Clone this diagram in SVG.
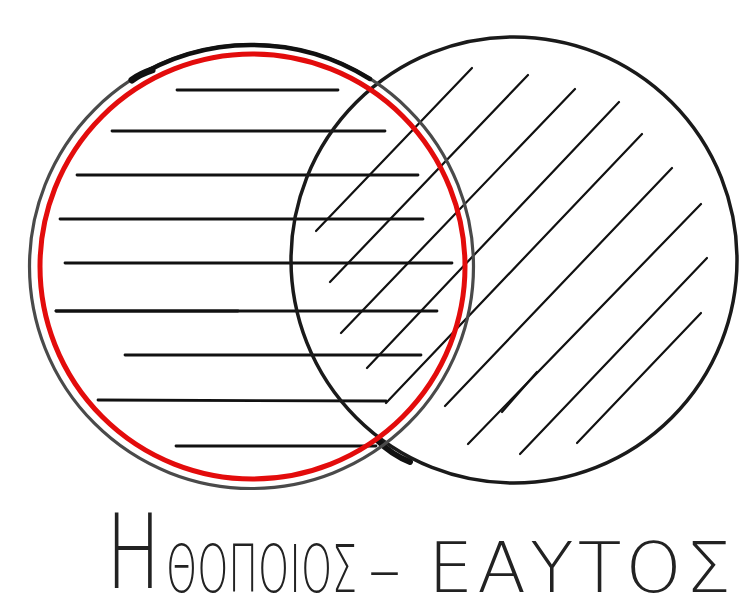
<svg xmlns="http://www.w3.org/2000/svg" width="748" height="613" viewBox="0 0 748 613">
<style>
.h{stroke:#111;stroke-width:2.8;stroke-linecap:round;fill:none}
.d{stroke:#111;stroke-width:2.2;stroke-linecap:round;fill:none}
.t{font-family:"DejaVu Sans","Liberation Sans",sans-serif;font-weight:200;fill:#222}
</style>
<rect width="748" height="613" fill="#fff"/>
<g id="connectors">
<line class="h" x1="177" y1="90" x2="338" y2="90"/>
<line class="h" x1="112" y1="131" x2="385" y2="131"/>
<line class="h" x1="77" y1="175" x2="418" y2="175"/>
<line class="h" x1="60" y1="219" x2="423" y2="219"/>
<line class="h" x1="65" y1="263" x2="452" y2="263"/>
<line class="h" x1="56" y1="311" x2="437" y2="311" stroke-width="2.2"/>
<line class="h" x1="56" y1="311" x2="238" y2="311" stroke-width="3.6"/>
<line class="h" x1="125" y1="355" x2="421" y2="355" stroke-width="2"/>
<line class="h" x1="98" y1="400" x2="386" y2="401"/>
<line class="h" x1="176" y1="446" x2="376" y2="446"/>
<line class="d" x1="472" y1="68" x2="316" y2="231"/>
<line class="d" x1="528" y1="75" x2="330" y2="282"/>
<line class="d" x1="575" y1="89" x2="341" y2="333"/>
<line class="d" x1="619" y1="102" x2="367" y2="368"/>
<line class="d" x1="642" y1="134" x2="386" y2="403" stroke-width="2.6"/>
<line class="d" x1="672" y1="168" x2="445" y2="406"/>
<line class="d" x1="701" y1="204" x2="468" y2="444" stroke-width="2.6"/>
<line class="d" x1="537" y1="372" x2="502" y2="412" stroke-width="4.5"/>
<line class="d" x1="707" y1="258" x2="520" y2="454"/>
<line class="d" x1="701" y1="313" x2="577" y2="443" stroke-width="2.6"/>
</g>
<g id="right-circle">
<circle cx="514" cy="260" r="223" fill="none" stroke="#1a1a1a" stroke-width="3.5"/>
<path d="M377,440 Q392,455 410,462" fill="none" stroke="#111" stroke-width="6" stroke-linecap="round"/>
</g>
<g id="left-circle">
<circle cx="251.5" cy="266.5" r="222" fill="none" stroke="#4a4a4a" stroke-width="3.2"/>
<path d="M132,80 A222,222 0 0 1 370,79" fill="none" stroke="#111" stroke-width="4.5" stroke-linecap="round"/>
<path d="M132,80 Q140,74 152,70" fill="none" stroke="#111" stroke-width="7" stroke-linecap="round"/>
</g>
<g id="red-circle">
<circle cx="252.5" cy="266.5" r="212.5" fill="none" stroke="#e30c0c" stroke-width="5"/>
</g>
<g id="label">
<text class="t" transform="translate(106,588) scale(0.7,1)" font-size="104">Η</text>
<text class="t" transform="translate(166,592) scale(0.6,1)" font-size="66">ΘΟΠΟΙΟΣ</text>
<text class="t" transform="translate(368,592)" font-size="66">–</text>
<text class="t" transform="translate(428,592) scale(1.02,1)" font-size="70" letter-spacing="4">ΕΑΥΤΟΣ</text>
</g>
</svg>
